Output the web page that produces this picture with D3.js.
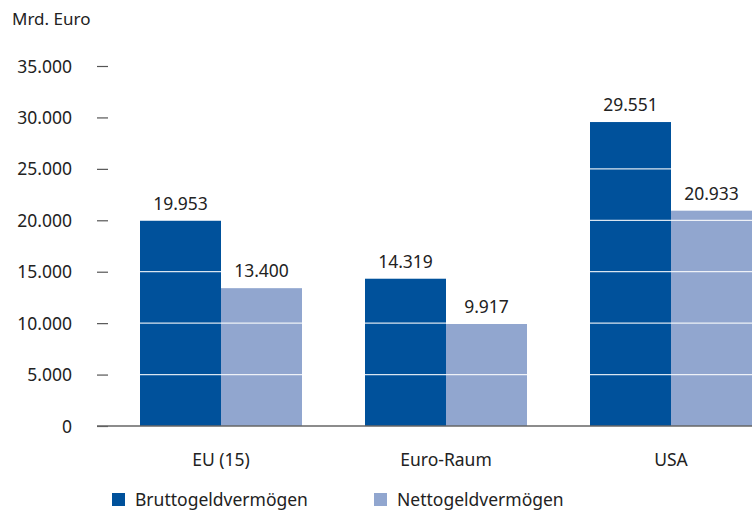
<!DOCTYPE html>
<html>
<head>
<meta charset="utf-8">
<script src="https://cdn.jsdelivr.net/npm/d3@7"></script>
<style>
body{margin:0;background:#fff}
text{font-family:"Noto Sans",sans-serif;fill:#222}
</style>
</head>
<body>
<div id="chart"></div>
<script>
const regions=['EU (15)','Euro-Raum','USA']
const seriesNames=['Bruttogeldvermögen','Nettogeldvermögen']
const brutto=[19953,14319,29551]
const netto=[13400,9917,20933]
const yTicks=[0,5000,10000,15000,20000,25000,30000,35000]
const colors=['#00519b','#91a6cf']

const W=752,H=518
const margin=({top:66,right:0,bottom:92,left:97})
const width=W-margin.left-margin.right,
  height=H-margin.top-margin.bottom

const de=d3.formatLocale({decimal:',',thousands:'.',grouping:[3],currency:['','€']})
const fmt=de.format(',d')

const svg=d3.select('#chart').append('svg')
	.attr('width',W)
	.attr('height',H)

const g=svg.append('g')
	.attr('transform','translate('+margin.left+','+margin.top+')')

const x0=d3.scaleBand()
	.domain(regions)
	.range([43,width])
	.paddingInner(0.28)
	.paddingOuter(0)

const x1=d3.scaleBand()
	.domain(seriesNames)
	.range([0,x0.bandwidth()])

const y=d3.scaleLinear()
	.domain([0,35000])
	.range([height,0])

const data=regions.map((r,i)=>({region:r,values:[brutto[i],netto[i]]}))

// bars
const groups=g.selectAll('.grp')
	.data(data)
	.enter().append('g')
	.attr('class','grp')
	.attr('transform',d=>'translate('+x0(d.region)+',0)')

const bars=groups.selectAll('.bar')
	.data(d=>d.values.map((v,i)=>({key:seriesNames[i],v,i})))
	.enter().append('g')
	.attr('class','bar')

bars.append('rect')
	.attr('x',d=>x1(d.key))
	.attr('y',d=>y(d.v))
	.attr('width',x1.bandwidth())
	.attr('height',d=>height-y(d.v))
	.attr('fill',d=>colors[d.i])

// white gridlines, only inside the bars
bars.selectAll('.grid')
	.data(d=>yTicks.filter(t=>t>0&&t<d.v).map(t=>({t,key:d.key})))
	.enter().append('line')
	.attr('x1',d=>x1(d.key)).attr('x2',d=>x1(d.key)+x1.bandwidth())
	.attr('y1',d=>y(d.t)).attr('y2',d=>y(d.t))
	.attr('stroke','#fff')
	.attr('stroke-width',1.2)
	.attr('opacity',0.85)

// value labels
bars.append('text')
	.attr('x',d=>x1(d.key)+x1.bandwidth()/2)
	.attr('y',d=>y(d.v)-11)
	.attr('text-anchor','middle')
	.style('font-size','17.5px')
	.text(d=>fmt(d.v))

// y axis ticks + labels
const yAxis=d3.axisLeft(y)
	.tickValues(yTicks)
	.tickSize(0)
	.tickPadding(25)
	.tickFormat(fmt)

const ya=g.append('g').call(yAxis)
ya.select('.domain').remove()
ya.selectAll('text').style('font-size','17.5px').attr('dy','0.35em')
ya.selectAll('.tick').append('line')
	.attr('x1',0).attr('x2',11)
	.attr('stroke','#555')
	.attr('stroke-width',1.2)

// baseline
g.append('line')
	.attr('x1',0).attr('x2',width)
	.attr('y1',height).attr('y2',height)
	.attr('stroke','#666')
	.attr('stroke-width',1.5)

// x labels
const xAxis=d3.axisBottom(x0).tickSize(0).tickPadding(28)
const xa=g.append('g')
	.attr('transform','translate(0,'+height+')')
	.call(xAxis)
xa.select('.domain').remove()
xa.selectAll('text').style('font-size','17.5px')

svg.append('text')
	.attr('x',12).attr('y',25)
	.style('font-size','17px')
	.text('Mrd. Euro')

// legend
const leg=svg.append('g').attr('transform','translate(112,493)')
const legX=[0,262]
seriesNames.forEach((s,i)=>{
	leg.append('rect').attr('x',legX[i]).attr('y',0).attr('width',13).attr('height',13).attr('fill',colors[i])
	leg.append('text').attr('x',legX[i]+23).attr('y',7).attr('dy','0.35em')
		.style('font-size','17.5px').text(s)
})
</script>
</body>
</html>
